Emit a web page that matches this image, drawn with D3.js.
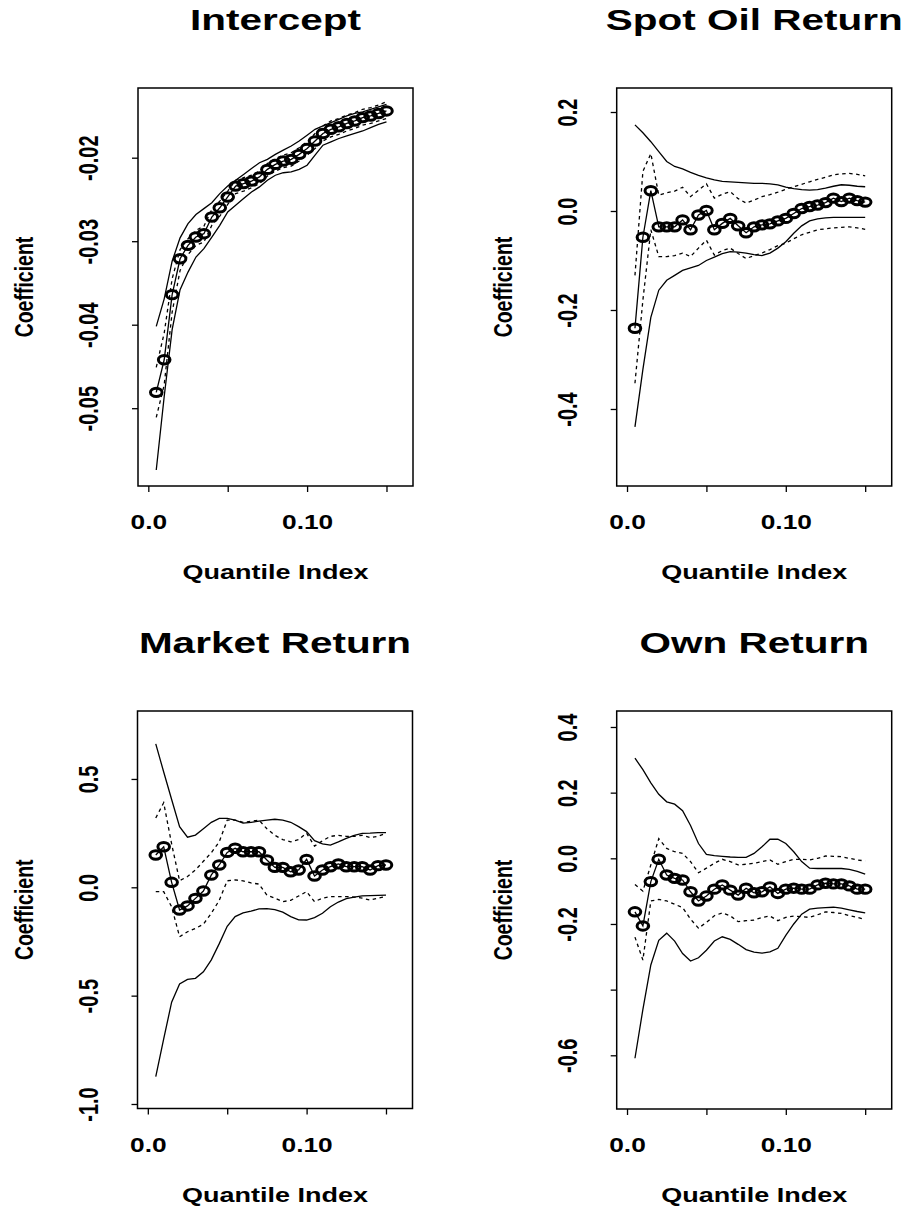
<!DOCTYPE html>
<html>
<head>
<meta charset="utf-8">
<script src="https://cdn.jsdelivr.net/npm/d3@7"></script>
<style>
  body { margin: 0; background: #fff; }
  svg text { font-family: "Liberation Sans", Arial, Helvetica, sans-serif; font-weight: bold; fill: #000; }
</style>
</head>
<body>
<svg id="drawing_region"></svg>
<script>
// quantile index (x) shared by all four panels
const tau = [0.005,0.010,0.015,0.020,0.025,0.030,0.035,0.040,0.045,0.050,
             0.055,0.060,0.065,0.070,0.075,0.080,0.085,0.090,0.095,0.100,
             0.105,0.110,0.115,0.120,0.125,0.130,0.135,0.140,0.145,0.150];

const xTicks = [0, 0.05, 0.10, 0.15];
const xTickLabels = ['0.0', '', '0.10', ''];

// Intercept
const interceptCoef = [-0.0481,-0.0442,-0.0364,-0.0321,-0.0305,-0.0295,-0.0291,-0.0271,-0.0260,-0.0247,-0.0234,-0.0231,-0.0228,-0.0223,-0.0214,-0.0208,-0.0204,-0.0202,-0.0196,-0.0189,-0.0180,-0.0171,-0.0166,-0.0163,-0.0159,-0.0156,-0.0152,-0.0150,-0.0147,-0.0144];
const interceptHi = [-0.0402,-0.0369,-0.0324,-0.0296,-0.0279,-0.0268,-0.0261,-0.0254,-0.0243,-0.0234,-0.0227,-0.0220,-0.0213,-0.0206,-0.0202,-0.0196,-0.0191,-0.0186,-0.0180,-0.0173,-0.0166,-0.0162,-0.0158,-0.0154,-0.0150,-0.0147,-0.0145,-0.0142,-0.0139,-0.0136];
const interceptLo = [-0.0574,-0.0486,-0.0406,-0.0358,-0.0337,-0.0319,-0.0309,-0.0295,-0.0281,-0.0265,-0.0257,-0.0249,-0.0241,-0.0235,-0.0227,-0.0221,-0.0218,-0.0217,-0.0214,-0.0209,-0.0197,-0.0185,-0.0181,-0.0177,-0.0174,-0.0171,-0.0168,-0.0164,-0.0160,-0.0157];
const interceptHiDash = [-0.0451,-0.0410,-0.0345,-0.0310,-0.0297,-0.0287,-0.0282,-0.0262,-0.0252,-0.0240,-0.0227,-0.0224,-0.0221,-0.0216,-0.0207,-0.0201,-0.0197,-0.0194,-0.0188,-0.0181,-0.0171,-0.0162,-0.0156,-0.0153,-0.0149,-0.0146,-0.0142,-0.0140,-0.0137,-0.0133];
const interceptLoDash = [-0.0511,-0.0472,-0.0385,-0.0335,-0.0316,-0.0305,-0.0301,-0.0281,-0.0270,-0.0256,-0.0243,-0.0240,-0.0236,-0.0231,-0.0222,-0.0216,-0.0212,-0.0210,-0.0204,-0.0197,-0.0189,-0.0180,-0.0175,-0.0172,-0.0168,-0.0165,-0.0161,-0.0159,-0.0156,-0.0153];

// Spot Oil Return
const oilCoef = [-0.237,-0.053,0.041,-0.032,-0.032,-0.032,-0.018,-0.038,-0.008,0.001,-0.038,-0.025,-0.015,-0.030,-0.044,-0.032,-0.028,-0.026,-0.020,-0.015,-0.005,0.005,0.009,0.012,0.017,0.026,0.019,0.026,0.021,0.018];
const oilHi = [0.174,0.158,0.140,0.120,0.100,0.090,0.085,0.078,0.072,0.067,0.063,0.060,0.059,0.058,0.057,0.056,0.056,0.055,0.053,0.048,0.045,0.043,0.042,0.043,0.046,0.050,0.053,0.052,0.050,0.049];
const oilLo = [-0.436,-0.320,-0.215,-0.160,-0.140,-0.130,-0.120,-0.115,-0.110,-0.100,-0.093,-0.086,-0.082,-0.083,-0.085,-0.088,-0.090,-0.085,-0.075,-0.062,-0.045,-0.030,-0.020,-0.016,-0.014,-0.013,-0.013,-0.013,-0.013,-0.013];
const oilHiDash = [-0.130,0.080,0.116,0.032,0.037,0.040,0.048,0.029,0.042,0.055,0.026,0.034,0.039,0.025,0.016,0.022,0.029,0.033,0.038,0.044,0.049,0.054,0.059,0.064,0.068,0.073,0.075,0.076,0.074,0.071];
const oilLoDash = [-0.348,-0.180,-0.038,-0.092,-0.092,-0.090,-0.085,-0.092,-0.075,-0.059,-0.089,-0.080,-0.075,-0.086,-0.096,-0.090,-0.085,-0.078,-0.070,-0.065,-0.056,-0.048,-0.043,-0.038,-0.036,-0.034,-0.033,-0.032,-0.034,-0.037];

// Market Return
const marketCoef = [0.149,0.187,0.023,-0.105,-0.086,-0.051,-0.017,0.057,0.103,0.161,0.180,0.164,0.164,0.164,0.126,0.092,0.092,0.072,0.080,0.129,0.052,0.080,0.095,0.108,0.095,0.095,0.095,0.080,0.100,0.103];
const marketHi = [0.662,0.532,0.405,0.280,0.231,0.241,0.270,0.300,0.318,0.318,0.310,0.296,0.300,0.305,0.310,0.314,0.310,0.300,0.280,0.257,0.215,0.200,0.195,0.210,0.226,0.240,0.249,0.250,0.252,0.252];
const marketLo = [-0.874,-0.700,-0.530,-0.446,-0.425,-0.420,-0.390,-0.335,-0.260,-0.180,-0.135,-0.118,-0.110,-0.100,-0.098,-0.103,-0.115,-0.135,-0.150,-0.151,-0.140,-0.120,-0.090,-0.068,-0.052,-0.045,-0.040,-0.038,-0.037,-0.036];
const marketHiDash = [0.320,0.390,0.200,0.030,0.050,0.080,0.120,0.160,0.210,0.310,0.310,0.300,0.305,0.310,0.270,0.240,0.220,0.210,0.220,0.250,0.190,0.215,0.235,0.240,0.235,0.235,0.240,0.230,0.235,0.250];
const marketLoDash = [-0.020,-0.020,-0.090,-0.228,-0.205,-0.190,-0.170,-0.120,-0.060,0.030,0.034,0.030,0.020,0.015,-0.036,-0.050,-0.066,-0.060,-0.040,-0.020,-0.066,-0.050,-0.043,-0.043,-0.043,-0.045,-0.050,-0.059,-0.050,-0.043];

// Own Return
const ownCoef = [-0.163,-0.206,-0.071,-0.003,-0.051,-0.061,-0.066,-0.102,-0.130,-0.115,-0.094,-0.081,-0.097,-0.112,-0.091,-0.105,-0.102,-0.087,-0.107,-0.094,-0.091,-0.094,-0.094,-0.081,-0.076,-0.078,-0.078,-0.084,-0.094,-0.094];
const ownHi = [0.305,0.270,0.230,0.195,0.172,0.165,0.145,0.100,0.045,0.012,0.008,0.006,0.004,0.003,0.003,0.015,0.035,0.058,0.058,0.045,0.020,-0.010,-0.030,-0.031,-0.031,-0.031,-0.031,-0.034,-0.040,-0.048];
const ownLo = [-0.609,-0.460,-0.325,-0.250,-0.228,-0.252,-0.290,-0.313,-0.303,-0.280,-0.252,-0.239,-0.247,-0.262,-0.278,-0.286,-0.289,-0.285,-0.274,-0.235,-0.200,-0.170,-0.155,-0.152,-0.150,-0.149,-0.152,-0.157,-0.162,-0.166];
const ownHiDash = [-0.080,-0.100,-0.020,0.060,0.030,0.020,0.015,-0.010,-0.044,-0.030,-0.015,-0.003,-0.010,-0.020,-0.018,-0.015,-0.010,-0.005,-0.018,-0.010,-0.003,-0.003,-0.005,0.000,0.007,0.006,0.005,0.000,-0.005,-0.008];
const ownLoDash = [-0.240,-0.310,-0.130,-0.125,-0.130,-0.140,-0.150,-0.185,-0.213,-0.195,-0.175,-0.166,-0.175,-0.193,-0.190,-0.188,-0.180,-0.176,-0.190,-0.180,-0.176,-0.178,-0.180,-0.172,-0.163,-0.165,-0.168,-0.175,-0.180,-0.186];

// y ticks per panel
const interceptTicks = [-0.02, -0.03, -0.04, -0.05];
const interceptTickLabels = ['-0.02', '-0.03', '-0.04', '-0.05'];
const oilTicks = [0.2, 0.0, -0.2, -0.4];
const oilTickLabels = ['0.2', '0.0', '-0.2', '-0.4'];
const marketTicks = [0.5, 0.0, -0.5, -1.0];
const marketTickLabels = ['0.5', '0.0', '-0.5', '-1.0'];
const ownTicks = [0.4, 0.2, 0.0, -0.2, -0.4, -0.6];
const ownTickLabels = ['0.4', '0.2', '0.0', '-0.2', '', '-0.6'];

const svg = d3.select('#drawing_region')
    .attr('width', 908)
    .attr('height', 1211);

const SX = 1.35;   // picture is stretched horizontally

class QuantilePlot {

  constructor( config, data ) {
    this.config = {
      parent: config.parent,
      left: config.left,
      top: config.top,
      width: config.width || 275,
      height: config.height || 398,
      title: config.title,
      ydomain: config.ydomain,
      yticks: config.yticks,
      yticklabels: config.yticklabels
    };
    this.data = data;
    this.init();
  }

  init() {
    let self = this;
    const w = self.config.width, h = self.config.height;

    self.chart = self.config.parent.append('g')
        .attr('transform', `translate(${self.config.left}, ${self.config.top})`);

    self.xscale = d3.scaleLinear()
        .domain([-0.0065, 0.1667])
        .range([0, w]);

    self.yscale = d3.scaleLinear()
        .domain(self.config.ydomain)
        .range([h, 0]);

    self.xaxis = d3.axisBottom(self.xscale)
        .tickValues(xTicks)
        .tickFormat((d, i) => xTickLabels[i])
        .tickSize(6)
        .tickSizeOuter(0);

    self.yaxis = d3.axisLeft(self.yscale)
        .tickValues(self.config.yticks)
        .tickFormat((d, i) => self.config.yticklabels[i])
        .tickSize(6)
        .tickSizeOuter(0);

    self.xaxis_group = self.chart.append('g')
        .attr('transform', `translate(0, ${h})`);
    self.yaxis_group = self.chart.append('g');

    // titles
    self.chart.append('text')
        .attr('transform', `translate(${w/2}, -58) scale(${SX},1)`)
        .attr('text-anchor', 'middle')
        .attr('font-size', 30)
        .text(self.config.title);

    self.chart.append('text')
        .attr('transform', `translate(${w/2}, ${h + 93}) scale(${SX},1)`)
        .attr('text-anchor', 'middle')
        .attr('font-size', 20)
        .text('Quantile Index');

    self.chart.append('text')
        .attr('transform', `translate(-105, ${h/2}) scale(${SX},1) rotate(-90)`)
        .attr('text-anchor', 'middle')
        .attr('font-size', 19.5)
        .text('Coefficient');
  }

  render() {
    let self = this;
    const w = self.config.width, h = self.config.height;
    const d = self.data;

    const line = key => d3.line()
        .x((v, i) => self.xscale(tau[i]))
        .y(v => self.yscale(v))(d[key]);

    self.chart.append('path').attr('d', line('hi'))
        .attr('fill', 'none').attr('stroke', '#000').attr('stroke-width', 1.3);
    self.chart.append('path').attr('d', line('lo'))
        .attr('fill', 'none').attr('stroke', '#000').attr('stroke-width', 1.3);
    self.chart.append('path').attr('d', line('hiDash'))
        .attr('fill', 'none').attr('stroke', '#000').attr('stroke-width', 1.3)
        .attr('stroke-dasharray', '3.5,3.5');
    self.chart.append('path').attr('d', line('loDash'))
        .attr('fill', 'none').attr('stroke', '#000').attr('stroke-width', 1.3)
        .attr('stroke-dasharray', '3.5,3.5');
    self.chart.append('path').attr('d', line('coef'))
        .attr('fill', 'none').attr('stroke', '#000').attr('stroke-width', 1.3);

    self.chart.selectAll('ellipse')
        .data(d.coef)
        .enter()
        .append('ellipse')
        .attr('cx', (v, i) => self.xscale(tau[i]))
        .attr('cy', v => self.yscale(v))
        .attr('rx', 5.8)
        .attr('ry', 4.2)
        .attr('fill', 'none')
        .attr('stroke', '#000')
        .attr('stroke-width', 3);

    self.chart.append('rect')
        .attr('width', w).attr('height', h)
        .attr('fill', 'none').attr('stroke', '#000').attr('stroke-width', 1.5);

    self.xaxis_group.call(self.xaxis);
    self.yaxis_group.call(self.yaxis);

    [self.xaxis_group, self.yaxis_group].forEach(g => {
      g.attr('font-family', null).attr('font-size', null);
      g.select('.domain').remove();
      g.selectAll('.tick line').attr('stroke-width', 1.3);
    });

    self.xaxis_group.selectAll('.tick text')
        .attr('y', 0).attr('dy', 0)
        .attr('font-size', 19.5)
        .attr('transform', `translate(0, 43) scale(${SX},1)`);

    self.yaxis_group.selectAll('.tick text')
        .attr('x', 0).attr('dy', 0)
        .attr('text-anchor', 'middle')
        .attr('font-size', 20)
        .attr('transform', `translate(-40, 0) scale(${SX},1) rotate(-90)`);
  }
}

const panels = [
  { config: { parent: svg, left: 138, top: 88, height: 398, title: 'Intercept',
              ydomain: [-0.059317, -0.011653], yticks: interceptTicks, yticklabels: interceptTickLabels },
    data: { coef: interceptCoef, hi: interceptHi, lo: interceptLo, hiDash: interceptHiDash, loDash: interceptLoDash } },
  { config: { parent: svg, left: 616.7, top: 88, height: 398, title: 'Spot Oil Return',
              ydomain: [-0.5556, 0.2485], yticks: oilTicks, yticklabels: oilTickLabels },
    data: { coef: oilCoef, hi: oilHi, lo: oilLo, hiDash: oilHiDash, loDash: oilLoDash } },
  { config: { parent: svg, left: 137.5, top: 711, height: 397.5, title: 'Market Return',
              ydomain: [-1.0208, 0.8136], yticks: marketTicks, yticklabels: marketTickLabels },
    data: { coef: marketCoef, hi: marketHi, lo: marketLo, hiDash: marketHiDash, loDash: marketLoDash } },
  { config: { parent: svg, left: 616.7, top: 711, height: 398, title: 'Own Return',
              ydomain: [-0.7636, 0.4487], yticks: ownTicks, yticklabels: ownTickLabels },
    data: { coef: ownCoef, hi: ownHi, lo: ownLo, hiDash: ownHiDash, loDash: ownLoDash } }
];

panels.forEach(p => {
  const plot = new QuantilePlot(p.config, p.data);
  plot.render();
});
</script>
</body>
</html>
